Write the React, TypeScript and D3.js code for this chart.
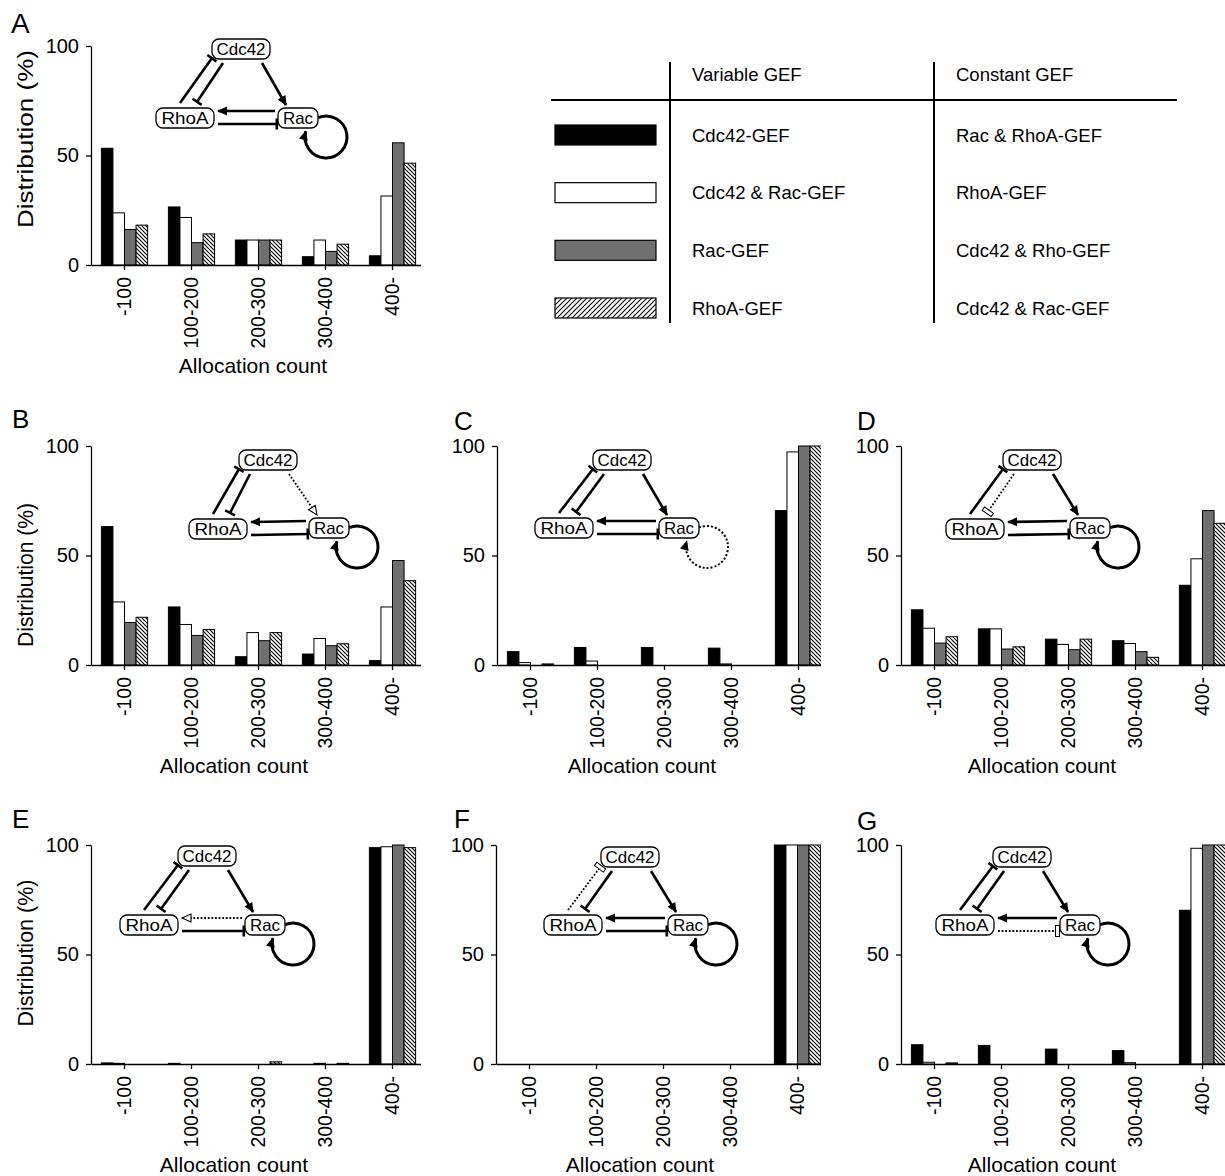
import React, { useEffect, useRef } from 'react';
import * as d3 from 'd3';

// allocation-count bins and GEF series
const categories = ["-100", "100-200", "200-300", "300-400", "400-"];
const variableGEF = ["Cdc42-GEF", "Cdc42 & Rac-GEF", "Rac-GEF", "RhoA-GEF"];
const constantGEF = ["Rac & RhoA-GEF", "RhoA-GEF", "Cdc42 & Rho-GEF", "Cdc42 & Rac-GEF"];
const seriesFills = ["#000", "#fff", "#707070", "url(#hatchBar)"];
const legendFills = ["#000", "#fff", "#707070", "url(#hatchLegend)"];
const yTicks = [0, 50, 100];

// distribution (%) per series (rows) and bin (columns)
const valuesA = [
  [53.3, 26.5, 11.4, 3.8, 4.2],
  [23.8, 21.7, 11.4, 11.4, 31.5],
  [16.2, 10.2, 11.4, 6.2, 55.8],
  [18.2, 14.2, 11.4, 9.5, 46.5]
];
const valuesB = [
  [63.2, 26.5, 3.8, 5.0, 2.0],
  [28.8, 18.5, 14.8, 12.1, 26.5],
  [19.4, 13.5, 11.1, 8.8, 47.7],
  [21.8, 16.2, 14.8, 9.7, 38.5]
];
const valuesC = [
  [6.1, 8.0, 8.0, 7.7, 70.5],
  [1.1, 1.8, 0, 0.5, 97.3],
  [0, 0, 0, 0, 100],
  [0.5, 0, 0, 0, 100]
];
const valuesD = [
  [25.2, 16.5, 11.8, 11.1, 36.4],
  [16.8, 16.5, 9.4, 9.8, 48.5],
  [10.0, 7.3, 7.0, 6.1, 70.5],
  [12.9, 8.3, 11.8, 3.5, 64.7]
];
const valuesE = [
  [0.5, 0.3, 0, 0, 98.8],
  [0.3, 0, 0, 0.3, 99.2],
  [0, 0, 0, 0, 100],
  [0, 0, 1.0, 0.3, 98.8]
];
const valuesF = [
  [0, 0, 0, 0, 100],
  [0, 0, 0, 0, 100],
  [0, 0, 0, 0, 100],
  [0, 0, 0, 0, 100]
];
const valuesG = [
  [8.8, 8.5, 6.8, 6.1, 70.2],
  [0.8, 0, 0, 0.6, 98.5],
  [0, 0, 0, 0, 100],
  [0.5, 0, 0, 0, 100]
];

const panels = [
  { key: 'A', values: valuesA, col: 0, x0: 91, y0: 265, letter: [11, 33], letterSize: 28, yLabel: { cy: 139, len: 178 }, titleX: 253,
    nodes: { c: [241, 49], r: [185, 118], q: [298, 118] }, mod: null },
  { key: 'B', values: valuesB, col: 0, x0: 91, y0: 665, letter: [12, 428], letterSize: 26, yLabel: { cy: 575, len: 144 }, titleX: 234,
    nodes: { c: [268, 460], r: [218, 529], q: [329, 528] }, mod: { edge: 'e3', end: 'arrowOpen' } },
  { key: 'C', values: valuesC, col: 1, x0: 497, y0: 665, letter: [454, 430], letterSize: 26, yLabel: null, titleX: 642,
    nodes: { c: [622, 460], r: [564, 528], q: [679, 528] }, mod: { edge: 'loop', end: 'arrow' } },
  { key: 'D', values: valuesD, col: 2, x0: 901, y0: 665, letter: [857, 430], letterSize: 26, yLabel: null, titleX: 1042,
    nodes: { c: [1032, 460], r: [975, 529], q: [1090, 528] }, mod: { edge: 'e2', end: 'tbarOpen' } },
  { key: 'E', values: valuesE, col: 0, x0: 91, y0: 1064, letter: [12, 828], letterSize: 26, yLabel: { cy: 953, len: 147 }, titleX: 234,
    nodes: { c: [207, 856], r: [149, 925], q: [265, 925] }, mod: { edge: 'e4', end: 'arrowOpen' } },
  { key: 'F', values: valuesF, col: 1, x0: 496, y0: 1064, letter: [454, 828], letterSize: 26, yLabel: null, titleX: 640,
    nodes: { c: [630, 857], r: [573, 925], q: [688, 925] }, mod: { edge: 'e1', end: 'tbarOpen' } },
  { key: 'G', values: valuesG, col: 2, x0: 901, y0: 1064, letter: [857, 830], letterSize: 26, yLabel: null, titleX: 1042,
    nodes: { c: [1022, 857], r: [965, 925], q: [1080, 925] }, mod: { edge: 'e5', end: 'tbarOpen' } }
];

// network edges, offsets relative to node centres
const edgeDefs = [
  { id: 'e1', from: ['r', -5, -15], to: ['c', -29, 9], end: 'tbar' },
  { id: 'e2', from: ['c', -18, 14], to: ['r', 12, -16], end: 'tbar' },
  { id: 'e3', from: ['c', 21, 14], to: ['q', -12, -13], end: 'arrow' },
  { id: 'e4', from: ['q', -23, -7], to: ['r', 33, -7], end: 'arrow' },
  { id: 'e5', from: ['r', 33, 6], to: ['q', -21, 6], end: 'tbar' }
];
const nodeDefs = [
  { id: 'c', label: 'Cdc42', w: 58, tl: 49 },
  { id: 'r', label: 'RhoA', w: 58, tl: 47 },
  { id: 'q', label: 'Rac', w: 40, tl: 30 }
];

const colClip = [[0, 421], [421, 821], [821, 1225]];

const App = () => {
  const svgRef = useRef(null);

  useEffect(() => {
    d3.select('body').style('margin', '0');
    const svg = d3.select(svgRef.current);
    svg.selectAll('*').remove();
    const font = "'Liberation Sans', Arial, Helvetica, sans-serif";

    const defs = svg.append('defs');
    const hb = defs.append('pattern').attr('id', 'hatchBar')
      .attr('patternUnits', 'userSpaceOnUse').attr('width', 4).attr('height', 4);
    hb.append('rect').attr('width', 4).attr('height', 4).attr('fill', '#fff');
    hb.append('path').attr('d', 'M-1,-1 L5,5 M-1,3 L1,5 M3,-1 L5,1')
      .attr('stroke', '#000').attr('stroke-width', 1.1);
    const hl = defs.append('pattern').attr('id', 'hatchLegend')
      .attr('patternUnits', 'userSpaceOnUse').attr('width', 5).attr('height', 5);
    hl.append('rect').attr('width', 5).attr('height', 5).attr('fill', '#fff');
    hl.append('path').attr('d', 'M-1,6 L6,-1 M-1,1 L1,-1 M4,6 L6,4')
      .attr('stroke', '#000').attr('stroke-width', 1.1);

    colClip.forEach((c, i) => {
      defs.append('clipPath').attr('id', `col${i}`)
        .append('rect').attr('x', c[0]).attr('y', 0).attr('width', c[1] - c[0]).attr('height', 1176);
    });

    // markers
    const mk = (id, w, h, refX, refY) => defs.append('marker').attr('id', id)
      .attr('markerUnits', 'userSpaceOnUse').attr('markerWidth', w).attr('markerHeight', h)
      .attr('refX', refX).attr('refY', refY).attr('orient', 'auto').attr('overflow', 'visible');
    mk('arrow', 10, 9, 9, 4.5).append('path').attr('d', 'M0,0 L10,4.5 L0,9 Z').attr('fill', '#000');
    mk('arrowOpen', 10, 9, 9.5, 4.5).append('path').attr('d', 'M0.5,0.5 L9.5,4.5 L0.5,8.5 Z')
      .attr('fill', '#fff').attr('stroke', '#000').attr('stroke-width', 1.1);
    mk('tbar', 3, 11, 1.5, 5.5).append('rect').attr('width', 2.6).attr('height', 11).attr('fill', '#000');
    mk('tbarOpen', 5, 12, 4, 6).append('rect').attr('x', 0.5).attr('y', 0.5).attr('width', 4).attr('height', 11)
      .attr('fill', '#fff').attr('stroke', '#000').attr('stroke-width', 1);

    panels.forEach(p => {
      const g = svg.append('g').attr('clip-path', `url(#col${p.col})`);

      const x = d3.scaleBand().domain(categories).range([p.x0, p.x0 + 335])
        .paddingInner(0.31).paddingOuter(0.155);
      const xs = d3.scaleBand().domain(d3.range(variableGEF.length)).range([0, x.bandwidth()]);
      const y = d3.scaleLinear().domain([0, 100]).range([p.y0, p.y0 - 219]);

      const cells = [];
      p.values.forEach((row, si) => row.forEach((v, ci) => {
        if (v > 0) cells.push({ si, cat: categories[ci], v });
      }));

      g.selectAll('.bar').data(cells).enter().append('rect')
        .attr('class', 'bar')
        .attr('x', d => x(d.cat) + xs(d.si))
        .attr('y', d => y(d.v))
        .attr('width', xs.bandwidth())
        .attr('height', d => y(0) - y(d.v))
        .attr('fill', d => seriesFills[d.si])
        .attr('stroke', '#000')
        .attr('stroke-width', 1);

      // y axis
      const ya = g.append('g').attr('transform', `translate(${p.x0},0)`)
        .call(d3.axisLeft(y).tickValues(yTicks).tickSize(5).tickSizeOuter(0).tickPadding(7));
      ya.attr('font-family', font).attr('font-size', 20).attr('color', '#000');
      ya.selectAll('line, path').attr('stroke-width', 1.3);

      // x axis
      const xa = g.append('g').attr('transform', `translate(0,${p.y0})`)
        .call(d3.axisBottom(x).tickSize(5).tickSizeOuter(0));
      xa.attr('font-family', font).attr('font-size', 19.5).attr('color', '#000');
      xa.selectAll('line, path').attr('stroke-width', 1.3);
      xa.selectAll('text')
        .attr('transform', 'rotate(-90)')
        .attr('x', -12).attr('y', 0).attr('dy', '0.35em')
        .attr('text-anchor', 'end');

      g.append('text')
        .attr('x', p.titleX).attr('y', p.y0 + 108)
        .attr('text-anchor', 'middle')
        .attr('font-family', font).attr('font-size', 21)
        .text('Allocation count');

      if (p.yLabel) {
        g.append('text')
          .attr('transform', `translate(33,${p.yLabel.cy}) rotate(-90)`)
          .attr('text-anchor', 'middle')
          .attr('font-family', font).attr('font-size', 22)
          .attr('textLength', p.yLabel.len).attr('lengthAdjust', 'spacingAndGlyphs')
          .text('Distribution (%)');
      }

      g.append('text')
        .attr('x', p.letter[0]).attr('y', p.letter[1])
        .attr('font-family', font).attr('font-size', p.letterSize)
        .text(p.key);

      // network diagram
      const pt = (ref) => [p.nodes[ref[0]][0] + ref[1], p.nodes[ref[0]][1] + ref[2]];
      nodeDefs.forEach(n => {
        const [cx, cy] = p.nodes[n.id];
        g.append('rect')
          .attr('x', cx - n.w / 2).attr('y', cy - 10)
          .attr('width', n.w).attr('height', 20)
          .attr('rx', 7).attr('ry', 7)
          .attr('fill', '#fff').attr('stroke', '#000').attr('stroke-width', 1.3);
        g.append('text')
          .attr('x', cx).attr('y', cy).attr('dy', '0.36em')
          .attr('text-anchor', 'middle')
          .attr('font-family', font).attr('font-size', 16.5)
          .attr('textLength', n.tl).attr('lengthAdjust', 'spacingAndGlyphs')
          .text(n.label);
      });

      edgeDefs.forEach(e => {
        const dotted = p.mod && p.mod.edge === e.id;
        const a = pt(e.from);
        const b = pt(e.to);
        g.append('path')
          .attr('d', `M${a[0]},${a[1]} L${b[0]},${b[1]}`)
          .attr('fill', 'none')
          .attr('stroke', '#000')
          .attr('stroke-width', dotted ? 1.8 : 2.6)
          .attr('stroke-dasharray', dotted ? '1.8,1.8' : null)
          .attr('marker-end', `url(#${dotted ? p.mod.end : e.end})`);
      });

      // Rac self-activation loop
      const [qx, qy] = p.nodes.q;
      const lc = [qx + 28, qy + 19];
      const lr = 21;
      const a0 = -112 * Math.PI / 180;
      const a1 = 196 * Math.PI / 180;
      const s = [lc[0] + lr * Math.cos(a0), lc[1] + lr * Math.sin(a0)];
      const t = [lc[0] + lr * Math.cos(a1), lc[1] + lr * Math.sin(a1)];
      const loopDotted = p.mod && p.mod.edge === 'loop';
      g.append('path')
        .attr('d', `M${s[0]},${s[1]} A${lr},${lr} 0 1 1 ${t[0]},${t[1]}`)
        .attr('fill', 'none')
        .attr('stroke', '#000')
        .attr('stroke-width', loopDotted ? 2 : 3)
        .attr('stroke-dasharray', loopDotted ? '2,2' : null)
        .attr('marker-end', 'url(#arrow)');
    });

    // legend table
    const lg = svg.append('g').attr('font-family', font);
    const row = d3.scalePoint().domain(variableGEF).range([135, 308]);
    lg.append('line').attr('x1', 551).attr('x2', 1177).attr('y1', 100).attr('y2', 100)
      .attr('stroke', '#000').attr('stroke-width', 2);
    [670, 934].forEach(vx => {
      lg.append('line').attr('x1', vx).attr('x2', vx).attr('y1', 62).attr('y2', 323)
        .attr('stroke', '#000').attr('stroke-width', 2);
    });
    lg.append('text').attr('x', 692).attr('y', 81).attr('font-size', 18.5).text('Variable GEF');
    lg.append('text').attr('x', 956).attr('y', 81).attr('font-size', 18.5).text('Constant GEF');

    variableGEF.forEach((name, i) => {
      const cy = row(name);
      lg.append('rect').attr('x', 555).attr('y', cy - 10).attr('width', 101).attr('height', 20)
        .attr('fill', legendFills[i]).attr('stroke', '#000').attr('stroke-width', 1.2);
      lg.append('text').attr('x', 692).attr('y', cy + 6.5).attr('font-size', 18.5).text(name);
      lg.append('text').attr('x', 956).attr('y', cy + 6.5).attr('font-size', 18.5).text(constantGEF[i]);
    });
  }, []);

  return (
    <svg ref={svgRef} width={1225} height={1176} style={{ display: 'block', background: '#fff' }} />
  );
};

export default App;
